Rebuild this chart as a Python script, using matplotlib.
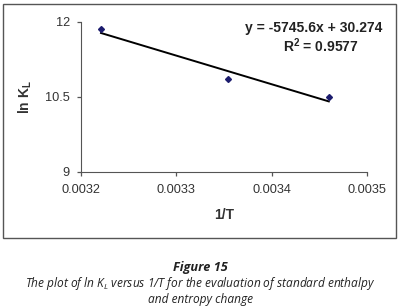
import matplotlib
matplotlib.use("Agg")
import matplotlib.pyplot as plt
import numpy as np
from matplotlib.patches import Rectangle

# data
inv_T = [0.003221, 0.003354, 0.003460]
ln_KL = [11.85, 10.86, 10.50]
x_ticks = [0.0032, 0.0033, 0.0034, 0.0035]
x_tick_labels = ["0.0032", "0.0033", "0.0034", "0.0035"]
y_ticks = [9, 10.5, 12]
y_tick_labels = ["9", "10.5", "12"]

plt.rcParams["font.family"] = ["Liberation Sans", "DejaVu Sans"]

fig = plt.figure(figsize=(4.01, 3.08), dpi=100)
ax = fig.add_axes([0.202, 0.4416, 0.713, 0.487])

# trendline
slope, intercept = np.polyfit(inv_T, ln_KL, 1)
xs = np.array([min(inv_T), max(inv_T)])
ax.plot(xs, slope * xs + intercept, color="black", linewidth=1.4, zorder=2)
ax.plot(inv_T, ln_KL, linestyle="none", marker="D", markersize=3,
        color="#1c1c6e", zorder=3)

ax.set_xlim(0.0032, 0.0035)
ax.set_ylim(9, 12)
ax.set_xticks(x_ticks)
ax.set_xticklabels(x_tick_labels)
ax.set_yticks(y_ticks)
ax.set_yticklabels(y_tick_labels)
ax.tick_params(axis="both", labelsize=9.2, colors="#555555", labelcolor="#333333",
               length=3, width=0.9, direction="out")
ax.tick_params(axis="x", pad=6)
ax.tick_params(axis="y", pad=5)
ax.spines["top"].set_visible(False)
ax.spines["right"].set_visible(False)
ax.spines["left"].set_color("#555555")
ax.spines["bottom"].set_color("#555555")
ax.margins(x=0)

ax.set_xlabel("1/T", fontsize=10, fontweight="bold", color="#333333", labelpad=8)
ax.set_ylabel(r"ln K$_\mathregular{L}$", fontsize=10, fontweight="bold",
              color="#333333", labelpad=8)

ax.text(1.055, 0.96, "y = -5745.6x + 30.274", transform=ax.transAxes,
        ha="right", va="center", fontsize=10, fontweight="bold", color="#222222")
ax.text(0.97, 0.845, r"R$^\mathregular{2}$ = 0.9577", transform=ax.transAxes,
        ha="right", va="center", fontsize=10, fontweight="bold", color="#222222")

# outer frame
fig.patches.append(Rectangle((3.5 / 401, 1 - 237.5 / 308), 392 / 401, 234 / 308,
                             transform=fig.transFigure, fill=False,
                             edgecolor="#555555", linewidth=1.0))

# caption
cap_font = ["Open Sans", "DejaVu Sans"]
fig.text(0.5, 1 - 268 / 308, "Figure 15", ha="center", va="center", fontsize=9.2,
         fontweight="bold", style="italic", family=cap_font, color="#222222")
fig.text(0.5, 1 - 284 / 308,
         r"The plot of ln K$_\mathregular{L}$ versus 1/T for the evaluation of standard enthalpy",
         ha="center", va="center", fontsize=8.6, style="italic", family=cap_font,
         color="#222222")
fig.text(0.5, 1 - 299 / 308, "and entropy change", ha="center", va="center",
         fontsize=8.6, style="italic", family=cap_font, color="#222222")

fig.savefig("out.png", dpi=100)
